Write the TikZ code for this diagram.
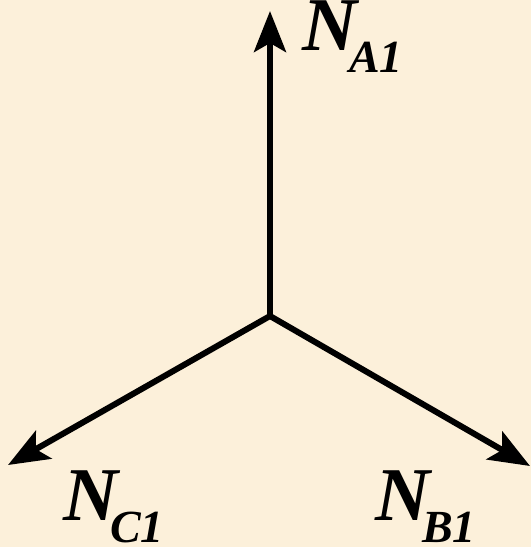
\documentclass[tikz,border=0pt]{standalone}
\usepackage{fontspec}
\setmainfont{Liberation Serif}
\usetikzlibrary{arrows.meta}
\definecolor{bgcream}{HTML}{FCF0DA}
\newcommand\mysubsc[1]{\raisebox{-22pt}{\fontsize{46}{48}\selectfont #1}}
\tikzset{
  vec/.style={line width=6pt, -{Stealth[length=41pt,width=32pt,inset=9pt]}},
  lbl/.style={inner sep=0pt, anchor=base west, font=\fontsize{76}{80}\selectfont\bfseries\itshape}
}
\begin{document}
\begin{tikzpicture}[x=1pt,y=-1pt]
\fill[bgcream] (0,0) rectangle (531,547);
\useasboundingbox (0,0) rectangle (531,547);
\coordinate (O) at (270,316);
\coordinate (A) at (270,11);
\coordinate (B) at (530,466);
\coordinate (C) at (8,465);
\draw[vec] (O) -- (A);
\draw[vec] (O) -- (B);
\draw[vec] (O) -- (C);
\node[lbl] (nA) at (302,50) {N\kern-8pt\mysubsc{A1}};
\node[lbl] (nC) at (63,520) {N\kern-8pt\mysubsc{C1}};
\node[lbl] (nB) at (375,520) {N\kern-8pt\mysubsc{B1}};
\end{tikzpicture}
\end{document}
